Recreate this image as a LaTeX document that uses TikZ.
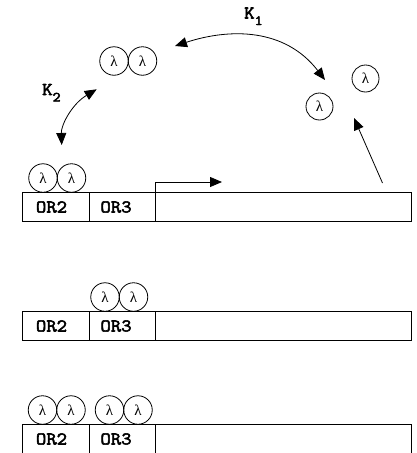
\documentclass[tikz,border=0pt]{standalone}
\usepackage{fontspec}
\setmainfont{Liberation Serif}
\newfontfamily\courb{Latin Modern Mono}[FakeBold=3,FakeStretch=1.12]
\usetikzlibrary{arrows.meta}
\begin{document}
\begin{tikzpicture}[x=1pt,y=-1pt,
  lam/.style={circle,draw,line width=0.8pt,minimum size=28.5pt,inner sep=0pt,font=\fontsize{15}{15}\selectfont},
  lamsingle/.style={lam,minimum size=27pt},
  cell/.style={rectangle,draw,line width=0.8pt,minimum height=29pt,inner sep=0pt,anchor=north west},
  lbl/.style={font=\courb\fontsize{18}{18}\selectfont,inner sep=0pt},
  klbl/.style={font=\courb\fontsize{18}{18}\selectfont,inner sep=0pt,anchor=base west},
  arr/.style={line width=0.8pt,-{Triangle[length=12pt,width=10pt]}},
  dbl/.style={line width=0.8pt,{Triangle[length=12pt,width=10pt]}-{Triangle[length=12pt,width=10pt]}}]
\useasboundingbox (0,0) rectangle (417,453);

% row 1
\node[cell,minimum width=67pt] (a2) at (22,192) {};
\node[cell,minimum width=66pt] (a3) at (89,192) {};
\node[cell,minimum width=256pt] (at) at (155,192) {};
\node[lbl] (a2t) at (51.5,207) {OR2};
\node[lbl] (a3t) at (116,207) {OR3};
\node[lam] (a2l) at (43,178) {λ};
\node[lam] (a2r) at (71.5,178) {λ};

% row 2
\node[cell,minimum width=67pt] (b2) at (22,311) {};
\node[cell,minimum width=66pt] (b3) at (89,311) {};
\node[cell,minimum width=256pt] (bt) at (155,311) {};
\node[lbl] (b2t) at (51.5,326) {OR2};
\node[lbl] (b3t) at (116,326) {OR3};
\node[lam] (b3l) at (105,297) {λ};
\node[lam] (b3r) at (133.5,297) {λ};

% row 3
\node[cell,minimum width=67pt] (c2) at (22,424) {};
\node[cell,minimum width=66pt] (c3) at (89,424) {};
\node[cell,minimum width=256pt] (ct) at (155,424) {};
\node[lbl] (c2t) at (51.5,439) {OR2};
\node[lbl] (c3t) at (116,439) {OR3};
\node[lam] (c2l) at (42.5,410) {λ};
\node[lam] (c2r) at (71,410) {λ};
\node[lam] (c3l) at (109.5,410) {λ};
\node[lam] (c3r) at (138,410) {λ};

% free dimer and monomers
\node[lam] (dl) at (114,61) {λ};
\node[lam] (dr) at (142.5,61) {λ};
\node[lamsingle] (m1) at (365.5,78.5) {λ};
\node[lamsingle] (m2) at (319.5,106.5) {λ};

% labels
\node[klbl] (k1) at (244,18.5) {K\raisebox{-6.5pt}{\fontsize{14}{14}\selectfont 1}};
\node[klbl] (k2) at (42,95) {K\raisebox{-6.5pt}{\fontsize{14}{14}\selectfont 2}};

% arrows
\coordinate (k1a) at (175,46);
\coordinate (k1b) at (325,80);
\draw[dbl] (k1a) .. controls (230,28) and (285,28) .. (k1b);

\coordinate (k2a) at (96.7,89.3);
\coordinate (k2b) at (61.7,145);
\draw[dbl] (k2a) .. controls (72,104) and (61,125) .. (k2b);

\coordinate (s0) at (382.5,183);
\coordinate (s1) at (354,118);
\draw[arr] (s0) -- (s1);

\coordinate (p1) at (222,182);
\draw[arr] (at.north west) -- (at.north west |- p1) -- (p1);
\end{tikzpicture}
\end{document}
